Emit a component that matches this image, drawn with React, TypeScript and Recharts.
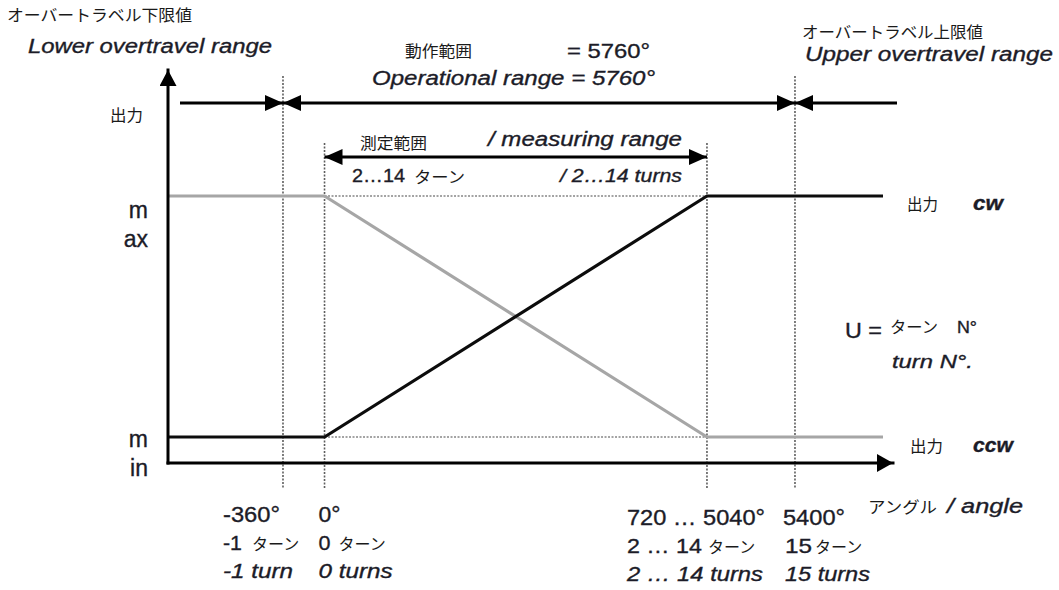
import React from 'react';
import { LineChart, Line, XAxis, YAxis, ReferenceLine } from 'recharts';

// ---------------- data ----------------
const angles = [-1080, 0, 5040, 6120];
const cwOutput = [0, 0, 100, 100];
const ccwOutput = [100, 100, 0, 0];
const OUT_MIN = 0;
const OUT_MAX = 100;
const overtravelLimits = [-360, 5400];
const measuringLimits = [0, 5040];
const tickAngles = [-360, 0, 5040, 5400];
const tickDegLabels = ['-360°', '0°', '720 … 5040°', '5400°'];
const tickTurnNums = ['-1', '0', '2 … 14', '15'];
const tickTurnJp = ['ターン', 'ターン', 'ターン', 'ターン'];
const tickTurnEn = ['-1 turn', '0 turns', '2 … 14 turns', '15 turns'];

const data = angles.map((a, i) => ({ angle: a, cw: cwOutput[i], ccw: ccwOutput[i] }));

// ---------------- layout ----------------
const W = 1059;
const H = 590;
const PLOT_TOP = 70;
const PLOT_LEFT = 168;
const PLOT_RIGHT = 893;
const PLOT_BOTTOM = 463;
const PX_OUT_MIN = 437;
const PX_OUT_MAX = 196;
const PX_PER_UNIT = (PX_OUT_MIN - PX_OUT_MAX) / (OUT_MAX - OUT_MIN);
const outAt = (px: number) => OUT_MIN + (PX_OUT_MIN - px) / PX_PER_UNIT;
const Y_DOMAIN = [outAt(PLOT_BOTTOM), outAt(PLOT_TOP)];

// schematic (piecewise linear) angle axis
const X_KNOTS = [-1080, -360, 0, 5040, 5400, 6120, 6300];
const X_FRACS = [0, 0.1586, 0.2159, 0.7434, 0.8648, 0.9862, 1];
const X_DOMAIN = [X_KNOTS[0], X_KNOTS[X_KNOTS.length - 1]];

function schematicScale(): any {
  let dom: any[] = X_DOMAIN.slice();
  let rng: number[] = [0, 1];
  const frac = (v: number) => {
    const k = X_KNOTS;
    const f = X_FRACS;
    let i = 0;
    while (i < k.length - 2 && v > k[i + 1]) i++;
    return f[i] + ((v - k[i]) / (k[i + 1] - k[i])) * (f[i + 1] - f[i]);
  };
  const s: any = (v: any) => {
    const n = Number(v);
    if (!isFinite(n)) return undefined;
    return rng[0] + frac(n) * (rng[rng.length - 1] - rng[0]);
  };
  s.domain = (d?: any) => {
    if (d === undefined) return dom.slice();
    dom = Array.from(d);
    return s;
  };
  s.range = (r?: any) => {
    if (r === undefined) return rng.slice();
    rng = Array.from(r) as number[];
    return s;
  };
  s.copy = () => schematicScale().domain(dom).range(rng);
  s.ticks = () => X_KNOTS.slice();
  s.tickFormat = () => (v: any) => String(v);
  s.nice = () => s;
  s.clamp = () => s;
  s.invert = (px: number) => {
    const f = (px - rng[0]) / (rng[rng.length - 1] - rng[0]);
    let i = 0;
    while (i < X_FRACS.length - 2 && f > X_FRACS[i + 1]) i++;
    return X_KNOTS[i] + ((f - X_FRACS[i]) / (X_FRACS[i + 1] - X_FRACS[i])) * (X_KNOTS[i + 1] - X_KNOTS[i]);
  };
  return s;
}

const EN = "'Liberation Sans', Arial, sans-serif";
const JP = "'Noto Sans CJK JP', 'Noto Sans CJK SC', sans-serif";
const INK = '#1a1a1a';
const INK_EN = '#1c1c28';

function T(props: any) {
  const { x, y, s = 16, w, it, b, jp, anchor, children, fill } = props;
  const col = fill || (jp ? INK : INK_EN);
  return (
    <text
      x={x}
      y={y}
      fontSize={s}
      fontFamily={jp ? JP : EN}
      fontStyle={it ? 'italic' : 'normal'}
      fontWeight={b ? 700 : 400}
      textLength={w}
      lengthAdjust={w ? 'spacingAndGlyphs' : undefined}
      textAnchor={anchor || 'start'}
      fill={col}
      stroke={jp ? 'none' : col}
      strokeWidth={jp ? 0 : 0.35}
    >
      {children}
    </text>
  );
}

// per-tick label placement (relative to the tick's x)
const tickPlace = [
  { deg: -60, degW: 57, num: -60, numW: 19, jp: -31, en: -60, enW: 70, dy: 0 },
  { deg: -6, degW: 22, num: -6, numW: 12, jp: 14, en: -6, enW: 74, dy: 0 },
  { deg: -80, degW: 138, num: -80, numW: 75, jp: 1, en: -80, enW: 136, dy: 3 },
  { deg: -12, degW: 62, num: -10, numW: 27, jp: 20, en: -10, enW: 85, dy: 3 },
];

function AngleTick(props: any) {
  const { x, payload } = props;
  const i = tickAngles.indexOf(Number(payload && payload.value));
  if (i < 0) return null;
  const p = tickPlace[i];
  const b = PLOT_BOTTOM + p.dy;
  return (
    <g>
      <T x={x + p.deg} y={b + 59} s={22} w={p.degW}>{tickDegLabels[i]}</T>
      <T x={x + p.num} y={b + 87} s={21} w={p.numW}>{tickTurnNums[i]}</T>
      <T x={x + p.jp} y={b + 87} s={16} jp>{tickTurnJp[i]}</T>
      <T x={x + p.en} y={b + 115} s={20} it w={p.enW}>{tickTurnEn[i]}</T>
    </g>
  );
}

const ROW_OPERATIONAL = 103;
const ROW_MEASURING = 157;
const TOP_OVERTRAVEL = 76;
const TOP_MEASURING = 143;
const GUIDE_BOTTOM = 489;

const arrowShape = (start: boolean, end: boolean, dx1 = 0, dx2 = 0) => (p: any) => (
  <line
    x1={p.x1 + dx1}
    y1={p.y1}
    x2={p.x2 + dx2}
    y2={p.y2}
    stroke="#000"
    strokeWidth={3}
    markerStart={start ? 'url(#ahead)' : undefined}
    markerEnd={end ? 'url(#ahead)' : undefined}
  />
);

export default function App() {
  const xScale = React.useMemo(() => schematicScale(), []);
  const opY = outAt(ROW_OPERATIONAL);
  const msY = outAt(ROW_MEASURING);
  return (
    <div style={{ position: 'absolute', left: 0, top: 0, width: W, height: H, background: '#fff' }}>
      <LineChart
        width={W}
        height={H}
        data={data}
        margin={{ top: PLOT_TOP, right: W - PLOT_RIGHT, bottom: H - PLOT_BOTTOM - 30, left: PLOT_LEFT - 60 }}
      >
        <XAxis
          dataKey="angle"
          type="number"
          domain={X_DOMAIN}
          scale={xScale}
          allowDataOverflow
          ticks={tickAngles}
          interval={0}
          tick={<AngleTick />}
          tickLine={false}
          height={30}
          axisLine={{ stroke: '#000', strokeWidth: 3, strokeLinecap: 'square', markerEnd: 'url(#aheadX)' }}
        />
        <YAxis
          type="number"
          domain={Y_DOMAIN}
          allowDataOverflow
          width={60}
          tick={false}
          tickLine={false}
          axisLine={{ stroke: '#000', strokeWidth: 3, strokeLinecap: 'square', markerStart: 'url(#aheadY)' }}
        />
        {overtravelLimits.map((a) => (
          <ReferenceLine
            key={'ot' + a}
            segment={[{ x: a, y: outAt(TOP_OVERTRAVEL) }, { x: a, y: outAt(GUIDE_BOTTOM) }]}
            ifOverflow="visible"
            stroke="#5e5e5e"
            strokeWidth={1.6}
            strokeDasharray="2 1.5"
          />
        ))}
        {measuringLimits.map((a) => (
          <ReferenceLine
            key={'ms' + a}
            segment={[{ x: a, y: outAt(TOP_MEASURING) }, { x: a, y: outAt(GUIDE_BOTTOM) }]}
            ifOverflow="visible"
            stroke="#5e5e5e"
            strokeWidth={1.6}
            strokeDasharray="2 1.5"
          />
        ))}
        {[OUT_MAX, OUT_MIN].map((v) => (
          <ReferenceLine
            key={'h' + v}
            segment={[{ x: measuringLimits[0], y: v }, { x: measuringLimits[1], y: v }]}
            ifOverflow="visible"
            stroke="#858585"
            strokeWidth={1.6}
            strokeDasharray="2 1.5"
          />
        ))}
        <ReferenceLine
          segment={[{ x: X_DOMAIN[0], y: opY }, { x: overtravelLimits[0], y: opY }]}
          ifOverflow="visible"
          shape={arrowShape(false, true, 12, 0)}
        />
        <ReferenceLine
          segment={[{ x: overtravelLimits[0], y: opY }, { x: overtravelLimits[1], y: opY }]}
          ifOverflow="visible"
          shape={arrowShape(true, true)}
        />
        <ReferenceLine
          segment={[{ x: overtravelLimits[1], y: opY }, { x: X_DOMAIN[1], y: opY }]}
          ifOverflow="visible"
          shape={arrowShape(true, false, 0, 4)}
        />
        <ReferenceLine
          segment={[{ x: measuringLimits[0], y: msY }, { x: measuringLimits[1], y: msY }]}
          ifOverflow="visible"
          shape={arrowShape(true, true)}
        />
        <Line
          type="linear"
          dataKey="ccw"
          stroke="#a6a6a6"
          strokeWidth={3.2}
          dot={false}
          activeDot={false}
          isAnimationActive={false}
        />
        <Line
          type="linear"
          dataKey="cw"
          stroke="#0c0c0c"
          strokeWidth={3.2}
          dot={false}
          activeDot={false}
          isAnimationActive={false}
        />
      </LineChart>
      <svg
        width={W}
        height={H}
        style={{ position: 'absolute', left: 0, top: 0, pointerEvents: 'none' }}
      >
        <defs>
          <marker id="ahead" viewBox="0 0 18 16" refX={18} refY={8} markerWidth={18} markerHeight={16} markerUnits="userSpaceOnUse" orient="auto-start-reverse">
            <path d="M0,0 L18,8 L0,16 Z" fill="#000" />
          </marker>
          <marker id="aheadX" viewBox="0 0 16 18" refX={16} refY={9} markerWidth={16} markerHeight={18} markerUnits="userSpaceOnUse" orient="auto-start-reverse">
            <path d="M0,0 L16,9 L0,18 Z" fill="#000" />
          </marker>
          <marker id="aheadY" viewBox="0 0 16 17" refX={16} refY={8.5} markerWidth={16} markerHeight={17} markerUnits="userSpaceOnUse" orient="auto-start-reverse">
            <path d="M0,0 L16,8.5 L0,17 Z" fill="#000" />
          </marker>
        </defs>
        <T x={7} y={21} s={16} jp w={185}>オーバートラベル下限値</T>
        <T x={28} y={53} s={20} it w={244}>Lower overtravel range</T>
        <T x={110} y={121} s={16} jp w={33}>出力</T>
        <T x={405} y={57} s={16} jp w={67}>動作範囲</T>
        <T x={567} y={58} s={21} w={83}>= 5760°</T>
        <T x={372} y={85} s={20} it w={283}>Operational range = 5760°</T>
        <T x={360} y={149} s={16} jp w={67}>測定範囲</T>
        <T x={488} y={146} s={20} it w={194}>/ measuring range</T>
        <T x={352} y={182} s={19} w={53}>2…14</T>
        <T x={414} y={183} s={16} jp w={51}>ターン</T>
        <T x={560} y={182} s={18} it w={122}>/ 2…14 turns</T>
        <T x={802} y={38} s={16} jp w={181}>オーバートラベル上限値</T>
        <T x={805} y={61} s={20} it w={248}>Upper overtravel range</T>
        <T x={148} y={218} s={23} anchor="end">m</T>
        <T x={148} y={247} s={23} anchor="end">ax</T>
        <T x={148} y={447} s={23} anchor="end">m</T>
        <T x={148} y={476} s={23} anchor="end">in</T>
        <T x={907} y={210} s={16} jp w={31}>出力</T>
        <T x={973} y={210} s={20} it b w={30}>cw</T>
        <T x={845} y={338} s={22} w={37}>U =</T>
        <T x={890} y={333} s={16} jp w={48}>ターン</T>
        <T x={957} y={333} s={16} w={20}>N°</T>
        <T x={892} y={368} s={19} it w={81}>turn N°.</T>
        <T x={910} y={452} s={16} jp w={33}>出力</T>
        <T x={973} y={452} s={20} it b w={40}>ccw</T>
        <T x={868} y={513} s={16} jp w={69}>アングル</T>
        <T x={947} y={513} s={20} it w={76}>/ angle</T>
      </svg>
    </div>
  );
}
